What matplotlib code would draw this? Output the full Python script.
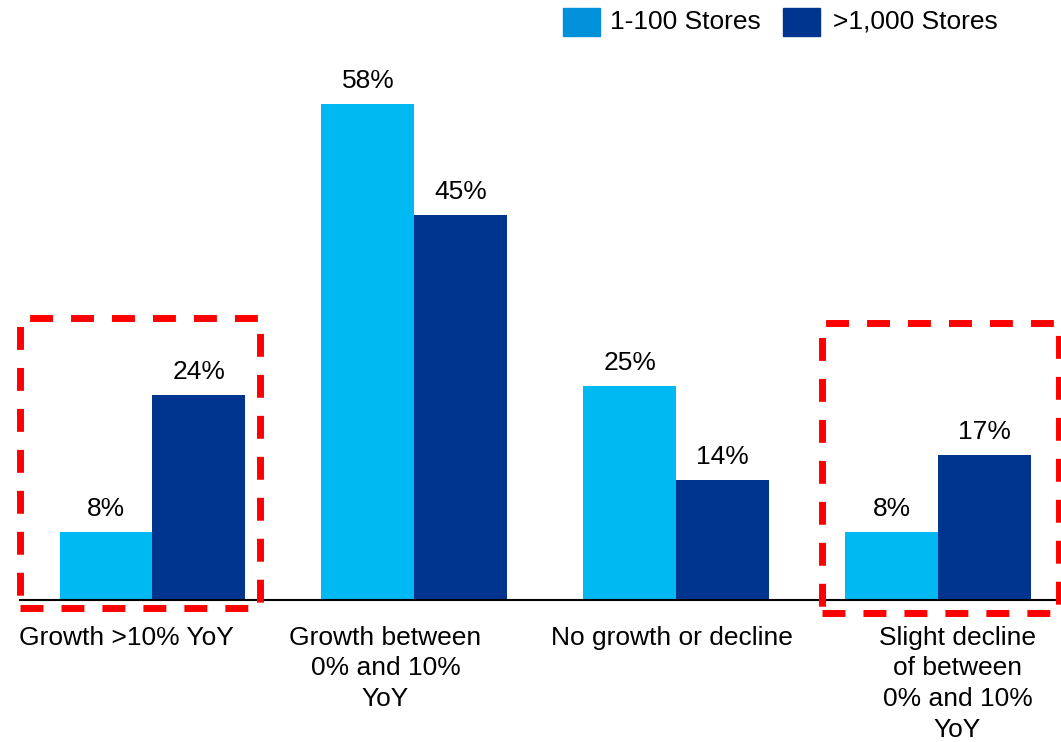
import matplotlib.pyplot as plt
from matplotlib.patches import Rectangle

plt.rcParams['font.family'] = ['Liberation Sans', 'DejaVu Sans']

categories = ['Growth >10% YoY', 'Growth between\n0% and 10%\nYoY',
              'No growth or decline', 'Slight decline\nof between\n0% and 10%\nYoY']
series_names = ['1-100 Stores', '>1,000 Stores']
small_chains = [8, 58, 25, 8]
large_chains = [24, 45, 14, 17]

bar_colors = ['#00B9F2', '#00358F']
legend_colors = ['#0091DA', '#00358F']

W, H = 1061, 742
fig = plt.figure(figsize=(W / 100, H / 100), dpi=100)
ax = fig.add_axes([20 / W, 142 / H, 1041 / W, 600 / H])

width = 0.355
x = list(range(len(categories)))
ax.bar([i - width / 2 for i in x], small_chains, width, color=bar_colors[0])
ax.bar([i + width / 2 for i in x], large_chains, width, color=bar_colors[1])

for i in x:
    ax.text(i - width / 2, small_chains[i] + 1.3, f'{small_chains[i]}%',
            ha='center', va='bottom', fontsize=19)
    ax.text(i + width / 2, large_chains[i] + 1.3, f'{large_chains[i]}%',
            ha='center', va='bottom', fontsize=19)

ax.set_xlim(-0.506, 3.47)
ax.set_ylim(0, 70.2)
for s in ['top', 'right', 'left']:
    ax.spines[s].set_visible(False)
ax.spines['bottom'].set_linewidth(1.5)
ax.set_yticks([])
ax.set_xticks([])

# category labels under each group
label_shift = [-0.10, -0.11, -0.015, 0.075]
for i, lab in enumerate(categories):
    ax.text(i + label_shift[i], -3.0, lab, ha='center', va='top',
            fontsize=19, linespacing=1.35, clip_on=False)

# red dashed highlight boxes (figure pixel coords)
for x0, y0, x1, y1 in [(20, 318, 260, 608), (822, 323, 1059, 613)]:
    box = Rectangle((x0 / W, 1 - y1 / H), (x1 - x0) / W, (y1 - y0) / H,
                    transform=fig.transFigure, fill=False, edgecolor='#FF0000',
                    linewidth=5, linestyle=(0, (3.3, 2.6)), clip_on=False)
    fig.add_artist(box)

# legend
for (sx, tx), name, col in zip([(563, 610), (783, 833)], series_names, legend_colors):
    fig.add_artist(Rectangle((sx / W, 1 - 36 / H), 37 / W, 28 / H,
                             transform=fig.transFigure, color=col))
    fig.text(tx / W, 1 - 22 / H, name, fontsize=19, va='center', ha='left')

fig.savefig('out.png', dpi=100)
